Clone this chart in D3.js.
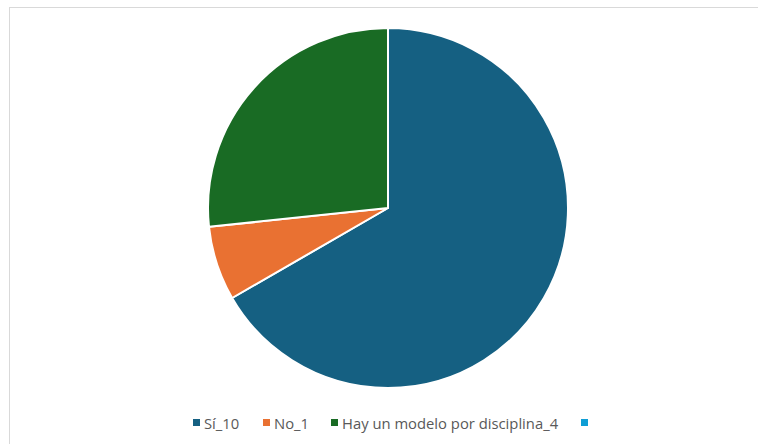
<!DOCTYPE html>
<html>
<head>
<meta charset="utf-8">
<script src="https://cdn.jsdelivr.net/npm/d3@7"></script>
<style>
  html, body { margin: 0; padding: 0; background: #fff; }
  svg { display: block; }
</style>
</head>
<body>
<svg id="chart" width="758" height="444"></svg>
<script>
// Survey answers and counts
const categories = ["Sí_10", "No_1", "Hay un modelo por disciplina_4", ""];
const values = [10, 1, 4, 0];
const colors = ["#156082", "#E97132", "#196B24", "#0F9ED5"];

const svg = d3.select("#chart");
const W = 758, H = 444;

// chart area frame
svg.append("rect")
  .attr("x", 9.5).attr("y", 7.5)
  .attr("width", W + 10).attr("height", H + 10)
  .attr("fill", "#fff")
  .attr("stroke", "#d9d9d9")
  .attr("stroke-width", 1);

const cx = 388, cy = 208, r = 180;

const pie = d3.pie().sort(null).value(d => d.v);
const arc = d3.arc().innerRadius(0).outerRadius(r);
const data = categories.map((c, i) => ({ c, v: values[i], col: colors[i] }));

svg.append("g")
  .attr("transform", `translate(${cx},${cy})`)
  .selectAll("path")
  .data(pie(data).filter(d => d.data.v > 0))
  .join("path")
  .attr("d", arc)
  .attr("fill", d => d.data.col)
  .attr("stroke", "#fff")
  .attr("stroke-width", 2)
  .attr("stroke-linejoin", "round");

// legend
const legendX = [193, 263, 331, 581];
const legendY = 423;
const lg = svg.append("g");
data.forEach((d, i) => {
  lg.append("rect")
    .attr("x", legendX[i]).attr("y", legendY - 4)
    .attr("width", 7).attr("height", 7)
    .attr("fill", d.col);
  if (d.c) {
    lg.append("text")
      .attr("x", legendX[i] + 11).attr("y", legendY + 5.5)
      .attr("font-family", "'Open Sans', 'Liberation Sans', sans-serif")
      .attr("font-size", 14.8)
      .attr("fill", "#595959")
      .text(d.c);
  }
});
</script>
</body>
</html>
